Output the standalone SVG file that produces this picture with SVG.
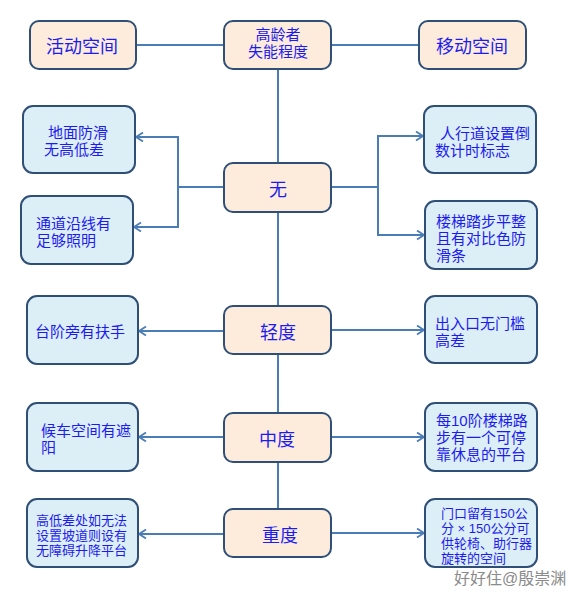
<svg xmlns="http://www.w3.org/2000/svg" width="578" height="600" viewBox="0 0 578 600">
<defs>
<style>
.peach{fill:#FDECDB;stroke:#2F4F76;stroke-width:2}
.blue{fill:#DDEFF6;stroke:#2F4F76;stroke-width:2}
.t{font-family:"Liberation Sans","Noto Sans CJK SC",sans-serif;fill:#1C1CF0}
.big{font-size:18px}
.mid{font-size:15px}
.sm{font-size:13px}
.c{text-anchor:middle}
.ln{fill:none;stroke:#4A7DB6;stroke-width:2}
</style>
<marker id="arr" markerUnits="userSpaceOnUse" markerWidth="10" markerHeight="12" refX="8" refY="5" orient="auto">
<path d="M1,0.5 L8,5 L1,9.5" fill="none" stroke="#4A7DB6" stroke-width="1.8"/>
</marker>
</defs>
<rect width="578" height="600" fill="#FFFFFF"/>
<g id="connectors">
<line class="ln" x1="136" y1="45" x2="224" y2="45"/>
<line class="ln" x1="331" y1="45" x2="419" y2="45"/>
<line class="ln" x1="278" y1="69" x2="278" y2="163"/>
<line class="ln" x1="278" y1="212" x2="278" y2="306"/>
<line class="ln" x1="278" y1="354" x2="278" y2="413"/>
<line class="ln" x1="278" y1="462" x2="278" y2="509"/>
<line class="ln" x1="224" y1="187" x2="178" y2="187"/>
<polyline class="ln" points="178,227 178,137 136,137" marker-end="url(#arr)"/>
<polyline class="ln" points="178,187 178,227 134,227" marker-end="url(#arr)"/>
<line class="ln" x1="331" y1="187" x2="378" y2="187"/>
<polyline class="ln" points="378,235 378,136 423,136" marker-end="url(#arr)"/>
<polyline class="ln" points="378,187 378,235 424,235" marker-end="url(#arr)"/>
<line class="ln" x1="224" y1="331" x2="139" y2="331" marker-end="url(#arr)"/>
<line class="ln" x1="331" y1="330" x2="424" y2="330" marker-end="url(#arr)"/>
<line class="ln" x1="224" y1="437" x2="139" y2="437" marker-end="url(#arr)"/>
<line class="ln" x1="331" y1="437" x2="424" y2="437" marker-end="url(#arr)"/>
<line class="ln" x1="224" y1="534" x2="139" y2="534" marker-end="url(#arr)"/>
<line class="ln" x1="331" y1="533" x2="424" y2="533" marker-end="url(#arr)"/>
</g>
<g id="activity">
<rect class="peach" x="30" y="21" width="106" height="48" rx="9"/>
<text class="t big c" x="82" y="53">活动空间</text>
</g>
<g id="level">
<rect class="peach" x="224" y="21" width="107" height="48" rx="9"/>
<text class="t mid c" x="278" y="40">高龄者<tspan x="278" dy="17">失能程度</tspan></text>
</g>
<g id="moving">
<rect class="peach" x="419" y="21" width="107" height="48" rx="9"/>
<text class="t big c" x="472" y="53">移动空间</text>
</g>
<g id="none">
<rect class="peach" x="224" y="163" width="107" height="49" rx="9"/>
<text class="t big c" x="278" y="196">无</text>
</g>
<g id="light">
<rect class="peach" x="224" y="306" width="107" height="48" rx="9"/>
<text class="t big c" x="278" y="339">轻度</text>
</g>
<g id="moderate">
<rect class="peach" x="224" y="413" width="107" height="49" rx="9"/>
<text class="t big c" x="277" y="446">中度</text>
</g>
<g id="severe">
<rect class="peach" x="224" y="509" width="107" height="48" rx="9"/>
<text class="t big c" x="280" y="542">重度</text>
</g>
<g id="floor">
<rect class="blue" x="23" y="106" width="112" height="67" rx="10"/>
<text class="t mid" x="48" y="138">地面防滑<tspan x="44" dy="17">无高低差</tspan></text>
</g>
<g id="lighting">
<rect class="blue" x="21" y="196" width="112" height="68" rx="10"/>
<text class="t mid" x="36" y="229">通道沿线有<tspan x="36" dy="17">足够照明</tspan></text>
</g>
<g id="countdown">
<rect class="blue" x="424" y="106" width="112" height="67" rx="10"/>
<text class="t mid" x="440" y="139">人行道设置倒<tspan x="435" dy="17">数计时标志</tspan></text>
</g>
<g id="stairs">
<rect class="blue" x="425" y="201" width="112" height="68" rx="10"/>
<text class="t mid" x="436" y="227">楼梯踏步平整<tspan x="436" dy="17">且有对比色防</tspan><tspan x="436" dy="17">滑条</tspan></text>
</g>
<g id="handrail">
<rect class="blue" x="27" y="296" width="111" height="68" rx="10"/>
<text class="t mid" x="35" y="337">台阶旁有扶手</text>
</g>
<g id="threshold">
<rect class="blue" x="425" y="296" width="112" height="67" rx="10"/>
<text class="t mid" x="435" y="329">出入口无门槛<tspan x="435" dy="17">高差</tspan></text>
</g>
<g id="shade">
<rect class="blue" x="27" y="403" width="111" height="68" rx="10"/>
<text class="t mid" x="41" y="436">候车空间有遮<tspan x="41" dy="17">阳</tspan></text>
</g>
<g id="landing">
<rect class="blue" x="425" y="403" width="112" height="68" rx="10"/>
<text class="t mid" x="436" y="426">每10阶楼梯路<tspan x="436" dy="17">步有一个可停</tspan><tspan x="436" dy="17">靠休息的平台</tspan></text>
</g>
<g id="lift">
<rect class="blue" x="27" y="499" width="111" height="68" rx="10"/>
<text class="t sm" x="36" y="525">高低差处如无法<tspan x="36" dy="15">设置坡道则设有</tspan><tspan x="36" dy="15">无障碍升降平台</tspan></text>
</g>
<g id="turning">
<rect class="blue" x="425" y="499" width="112" height="68" rx="10"/>
<text class="t sm" x="441" y="518">门口留有150公<tspan x="441" dy="15">分 × 150公分可</tspan><tspan x="441" dy="15">供轮椅、助行器</tspan><tspan x="441" dy="15">旋转的空间</tspan></text>
</g>
<text x="454" y="584" font-family="Liberation Sans, Noto Sans CJK SC, sans-serif" font-size="16" fill="#8A8A8A">好好住@殷崇渊</text>
</svg>
